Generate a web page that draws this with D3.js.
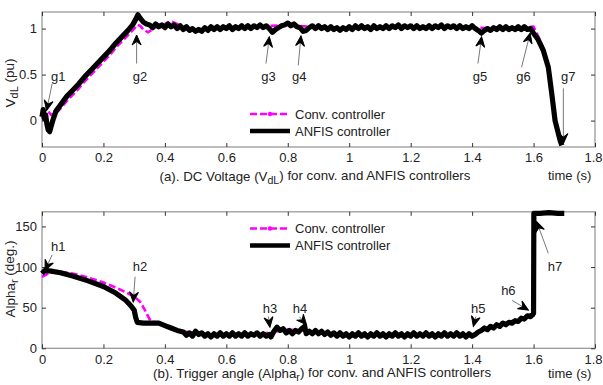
<!DOCTYPE html>
<html><head><meta charset="utf-8">
<script src="https://cdn.jsdelivr.net/npm/d3@7"></script>
<style>
body{margin:0;background:#fff;}
svg text{font-family:"Liberation Sans",Arial,sans-serif;fill:#222;}
</style></head>
<body><svg id="c" width="603" height="385"></svg>
<script>
// ---------- data ----------
const xTicks = [0,0.2,0.4,0.6,0.8,1,1.2,1.4,1.6,1.8];
const xTickLabels = ["0","0.2","0.4","0.6","0.8","1","1.2","1.4","1.6","1.8"];
const vTicks = [0,0.5,1];
const vTickLabels = ["0","0.5","1"];
const aTicks = [0,50,100,150];
const aTickLabels = ["0","50","100","150"];
const seriesNames = ["Conv. controller","ANFIS controller"];

// (a) DC voltage, ANFIS controller: [time, VdL pu]
const vdcAnfis = [
[0.000,0.04],[0.004,0.12],[0.008,0.02],[0.012,0.06],[0.016,-0.04],[0.020,-0.10],[0.025,-0.12],[0.030,-0.06],
[0.035,0.00],[0.045,0.10],[0.060,0.17],[0.080,0.26],[0.100,0.33],[0.120,0.40],[0.140,0.48],[0.160,0.55],
[0.180,0.62],[0.200,0.69],[0.220,0.76],[0.240,0.84],[0.260,0.91],[0.280,0.98],[0.295,1.04],[0.305,1.10],
[0.312,1.15],[0.320,1.11],[0.330,1.07],[0.340,1.05],
[0.35,1.04],[0.36,1.01],[0.37,1.05],[0.38,1.02],[0.39,1.04],[0.40,1.01],[0.41,1.05],[0.42,1.02],[0.43,1.04],
[0.44,1.00],[0.45,1.03],[0.46,0.99],[0.47,1.02],[0.48,0.98],[0.49,1.00],[0.50,0.97],[0.51,0.99],[0.52,0.97],
[0.53,1.01],[0.54,0.98],[0.55,1.02],[0.56,0.99],[0.57,1.02],[0.58,0.99],[0.59,1.02],[0.60,1.00],[0.61,1.03],
[0.62,0.99],[0.63,1.02],[0.64,1.00],[0.65,1.03],[0.66,1.00],[0.67,1.03],[0.68,1.00],[0.69,1.03],[0.70,1.01],
[0.71,1.04],[0.72,1.01],[0.73,1.03],[0.74,1.00],[0.75,0.96],[0.76,0.99],[0.77,1.01],[0.78,1.03],[0.79,1.04],
[0.80,1.06],[0.81,1.03],[0.82,1.05],[0.83,1.02],[0.84,1.01],[0.85,0.97],[0.86,0.98],[0.87,1.01],[0.88,1.03],
[0.89,1.00],[0.90,1.03],[0.91,1.00],[0.92,1.02],[0.93,0.99],[0.94,1.02],[0.95,0.99],[0.96,1.01],[0.97,0.98],
[0.98,1.01],[0.99,0.99],[1.00,1.02],[1.01,0.99],[1.02,1.03],[1.03,1.00],[1.04,1.03],[1.05,1.00],[1.06,1.02],
[1.07,0.99],[1.08,1.03],[1.09,1.00],[1.10,1.02],[1.11,1.00],[1.12,1.03],[1.13,1.00],[1.14,1.03],[1.15,1.01],
[1.16,1.04],[1.17,1.00],[1.18,1.03],[1.19,1.01],[1.20,1.03],[1.21,1.00],[1.22,1.03],[1.23,1.00],[1.24,1.02],
[1.25,1.00],[1.26,1.03],[1.27,1.00],[1.28,1.03],[1.29,1.01],[1.30,1.04],[1.31,1.00],[1.32,1.03],[1.33,1.01],
[1.34,1.03],[1.35,1.00],[1.36,1.03],[1.37,1.00],[1.38,1.02],[1.39,1.00],[1.40,1.03],[1.41,1.00],[1.42,0.98],
[1.43,0.95],[1.44,0.98],[1.45,1.00],[1.46,0.98],[1.47,1.01],[1.48,0.99],[1.49,1.02],[1.50,0.99],[1.51,1.02],
[1.52,0.99],[1.53,1.01],[1.54,0.99],[1.55,1.02],[1.56,0.99],[1.57,1.02],[1.58,0.99],[1.59,1.00],[1.600,0.95],
[1.615,0.88],[1.632,0.76],[1.648,0.58],[1.659,0.30],[1.670,0.00],[1.686,-0.21],[1.692,-0.27]
];
// (a) DC voltage, conventional controller
const vdcConv = [
[0.000,0.02],[0.010,0.06],[0.020,0.10],[0.030,0.06],[0.045,0.08],[0.060,0.13],[0.080,0.21],[0.100,0.28],
[0.120,0.35],[0.140,0.43],[0.160,0.50],[0.180,0.57],[0.200,0.64],[0.220,0.71],[0.240,0.79],[0.260,0.86],
[0.280,0.93],[0.300,1.00],[0.310,1.04],[0.320,1.03],[0.330,0.99],[0.345,0.96],[0.360,0.99],[0.380,1.04],
[0.400,1.05],[0.420,1.08],[0.440,1.05],[0.460,1.02],[0.500,0.99],[0.550,1.00],[0.600,1.01],[0.700,1.02],
[0.800,1.04],[0.900,1.01],[1.000,1.00],[1.200,1.01],[1.400,1.01],[1.500,1.00],[1.600,1.02],[1.610,0.95],
[1.620,0.88],[1.635,0.75],[1.650,0.57],[1.660,0.30],[1.670,0.00],[1.686,-0.21],[1.692,-0.26]
];
// (b) Trigger angle, ANFIS controller: [time, deg]
const alphaAnfis = [
[0.000,92],[0.010,96],[0.030,95],[0.060,93],[0.100,89],[0.150,83],[0.200,76],[0.240,68],[0.270,60],
[0.290,52],[0.300,47],[0.305,38],[0.310,32],[0.330,31],[0.360,31],[0.380,31],[0.400,28],[0.420,25],[0.440,22],
[0.46,20],[0.47,16],[0.48,19],[0.49,15],[0.50,21],[0.51,17],[0.52,19],[0.53,15],[0.54,18],[0.55,14],[0.56,18],
[0.57,15],[0.58,19],[0.59,15],[0.60,18],[0.61,15],[0.62,19],[0.63,15],[0.64,18],[0.65,15],[0.66,19],[0.67,15],
[0.68,18],[0.69,16],[0.70,19],[0.71,15],[0.72,18],[0.73,15],[0.74,17],[0.745,14],[0.755,21],[0.765,26],
[0.775,22],[0.785,24],[0.795,19],[0.805,22],[0.815,18],[0.825,22],[0.835,20],[0.845,24],[0.855,27],[0.86,18],
[0.87,21],[0.88,18],[0.89,22],[0.90,18],[0.91,21],[0.92,17],[0.93,20],[0.94,16],[0.95,19],[0.96,15],[0.97,19],
[0.98,15],[0.99,18],[1.00,14],[1.01,18],[1.02,15],[1.03,19],[1.04,15],[1.05,18],[1.06,14],[1.07,18],[1.08,15],
[1.09,19],[1.10,15],[1.11,18],[1.12,14],[1.13,18],[1.14,15],[1.15,19],[1.16,15],[1.17,18],[1.18,14],[1.19,18],
[1.20,15],[1.21,19],[1.22,15],[1.23,18],[1.24,15],[1.25,19],[1.26,15],[1.27,18],[1.28,14],[1.29,18],[1.30,15],
[1.31,19],[1.32,15],[1.33,18],[1.34,15],[1.35,19],[1.36,15],[1.37,18],[1.38,14],[1.39,18],[1.40,15],[1.41,17],
[1.42,20],[1.43,22],[1.44,25],[1.45,23],[1.46,27],[1.47,25],[1.48,29],[1.49,27],[1.50,31],[1.51,29],[1.52,32],
[1.53,31],[1.54,34],[1.55,33],[1.56,37],[1.57,36],[1.58,40],[1.59,39],[1.600,43],[1.601,166],[1.62,166],
[1.65,167],[1.68,166],[1.70,166]
];
// (b) Trigger angle, conventional controller
const alphaConv = [
[0.000,88],[0.020,92],[0.050,95],[0.100,92],[0.150,87],[0.200,81],[0.250,73],[0.300,64],[0.320,57],
[0.335,47],[0.350,36],[0.360,33],[0.380,31],[0.400,29],[0.450,21],[0.500,19],[0.550,17],[0.600,17],
[0.700,17],[0.750,20],[0.800,23],[0.850,22],[0.900,19],[1.000,17],[1.200,17],[1.400,17],[1.450,24],
[1.500,30],[1.550,36],[1.600,40],[1.601,166],[1.700,166]
];
// annotations: label, label position (t, value), arrow start (t, value), arrow tip (t, value)
const notesA = [
["g1",0.053,0.43,0.033,0.40,0.015,0.11],
["g2",0.319,0.43,0.308,0.62,0.308,0.93],
["g3",0.737,0.43,0.729,0.62,0.740,0.91],
["g4",0.837,0.43,0.834,0.60,0.843,0.92],
["g5",1.426,0.43,1.419,0.62,1.431,0.91],
["g6",1.567,0.43,1.561,0.58,1.589,0.95],
["g7",1.713,0.43,1.697,0.35,1.697,-0.25]
];
const notesB = [
["h1",0.053,120,0.033,115,0.010,96],
["h2",0.319,95,0.303,88,0.297,57],
["h3",0.742,43,0.737,39,0.742,26],
["h4",0.840,44,0.838,39,0.861,29],
["h5",1.420,43,1.412,39,1.404,27],
["h6",1.518,66,1.530,59,1.583,47],
["h7",1.670,95,1.648,117,1.610,156]
];

// ---------- drawing ----------
const svg = d3.select("#c");
const x = d3.scaleLinear().domain([0,1.8]).range([42,595]);
const yA = d3.scaleLinear().domain([-0.287,1.18]).range([147,12]);
const yB = d3.scaleLinear().domain([0,168]).range([348.3,211.8]);

const defs = svg.append("defs");
defs.append("marker").attr("id","ah").attr("viewBox","-12 -6 14 12")
  .attr("markerWidth",14).attr("markerHeight",12).attr("refX",0).attr("refY",0)
  .attr("orient","auto").attr("markerUnits","userSpaceOnUse")
  .append("path").attr("d","M0,0 L-10,-4.5 L-6.5,0 L-10,4.5 Z").attr("fill","#000").attr("stroke","#000").attr("stroke-width",1);

function panel(y, ticks, tickLabels, conv, anfis, notes, wA, legendY){
  const g = svg.append("g");
  const [y0,y1] = y.range();
  g.append("rect").attr("x",x(0)).attr("y",y1).attr("width",x(1.8)-x(0)).attr("height",y0-y1)
   .attr("fill","none").attr("stroke","#9a9a9a").attr("stroke-width",1.3);
  const fmtX = d => xTickLabels[xTicks.indexOf(d)];
  const fmtY = d => tickLabels[ticks.indexOf(d)];
  const ax = [
    g.append("g").attr("transform",`translate(0,${y0})`).call(d3.axisBottom(x).tickValues(xTicks).tickFormat(fmtX).tickSize(-4).tickSizeOuter(0).tickPadding(6)),
    g.append("g").attr("transform",`translate(0,${y1})`).call(d3.axisTop(x).tickValues(xTicks).tickFormat("").tickSize(-4).tickSizeOuter(0)),
    g.append("g").attr("transform",`translate(${x(0)},0)`).call(d3.axisLeft(y).tickValues(ticks).tickFormat(fmtY).tickSize(-4).tickSizeOuter(0).tickPadding(5)),
    g.append("g").attr("transform",`translate(${x(1.8)},0)`).call(d3.axisRight(y).tickValues(ticks).tickFormat("").tickSize(-4).tickSizeOuter(0))
  ];
  ax.forEach(a=>{
    a.select(".domain").remove();
    a.selectAll(".tick line").attr("stroke","#333").attr("stroke-width",1);
    a.selectAll(".tick text").attr("font-size",13).attr("fill","#222")
      .style("font-family","'Liberation Sans',Arial,sans-serif");
  });
  // keep the last x tick label inside the page
  ax[0].selectAll(".tick text").filter(d=>d===1.8).attr("dx",-2);
  const line = d3.line().x(d=>x(d[0])).y(d=>y(d[1]));
  g.append("path").datum(conv).attr("d",line).attr("fill","none").attr("stroke","#ff00ff")
   .attr("stroke-width",2.6).attr("stroke-dasharray","7,3");
  g.append("path").datum(anfis).attr("d",line).attr("fill","none").attr("stroke","#000")
   .attr("stroke-width",wA).attr("stroke-linejoin","round");
  notes.forEach(n=>{
    g.append("line").attr("x1",x(n[3])).attr("y1",y(n[4])).attr("x2",x(n[5])).attr("y2",y(n[6]))
     .attr("stroke","#555").attr("stroke-width",0.8).attr("marker-end","url(#ah)");
    g.append("text").attr("x",x(n[1])).attr("y",y(n[2])).attr("text-anchor","middle")
     .attr("font-size",13).text(n[0]);
  });
  const lx = 250;
  g.append("line").attr("x1",lx).attr("x2",lx+40).attr("y1",legendY).attr("y2",legendY)
   .attr("stroke","#ff00ff").attr("stroke-width",2.6).attr("stroke-dasharray","7,3");
  g.append("circle").attr("cx",lx+20).attr("cy",legendY).attr("r",2.2).attr("fill","#ff00ff");
  g.append("line").attr("x1",lx).attr("x2",lx+40).attr("y1",legendY+17).attr("y2",legendY+17)
   .attr("stroke","#000").attr("stroke-width",4.5);
  g.append("text").attr("x",lx+45).attr("y",legendY+4.5).attr("font-size",13).text(seriesNames[0]);
  g.append("text").attr("x",lx+45).attr("y",legendY+21.5).attr("font-size",13).text(seriesNames[1]);
  return g;
}

panel(yA, vTicks, vTickLabels, vdcConv, vdcAnfis, notesA, 5.2, 114);
panel(yB, aTicks, aTickLabels, alphaConv, alphaAnfis, notesB, 5.2, 228.5);

function sub(t, pre, s, post){
  t.append("tspan").text(pre);
  t.append("tspan").attr("dy","0.3em").attr("font-size","0.8em").text(s);
  t.append("tspan").attr("dy","-0.3em").text(post);
}
let t;
t = svg.append("text").attr("transform","translate(15,83) rotate(-90)").attr("text-anchor","middle").attr("font-size",13.5);
sub(t,"V","dL"," (pu)");
t = svg.append("text").attr("transform","translate(15,279) rotate(-90)").attr("text-anchor","middle").attr("font-size",13.5);
sub(t,"Alpha","r"," (deg.)");
t = svg.append("text").attr("x",315).attr("y",181).attr("text-anchor","middle").attr("font-size",13.3);
sub(t,"(a). DC Voltage (V","dL",") for conv. and ANFIS controllers");
t = svg.append("text").attr("x",322).attr("y",378).attr("text-anchor","middle").attr("font-size",13.3);
sub(t,"(b). Trigger angle (Alpha","r",") for conv. and ANFIS controllers");
svg.append("text").attr("x",548).attr("y",180).attr("font-size",13).text("time (s)");
svg.append("text").attr("x",548).attr("y",378).attr("font-size",13).text("time (s)");
</script></body></html>
